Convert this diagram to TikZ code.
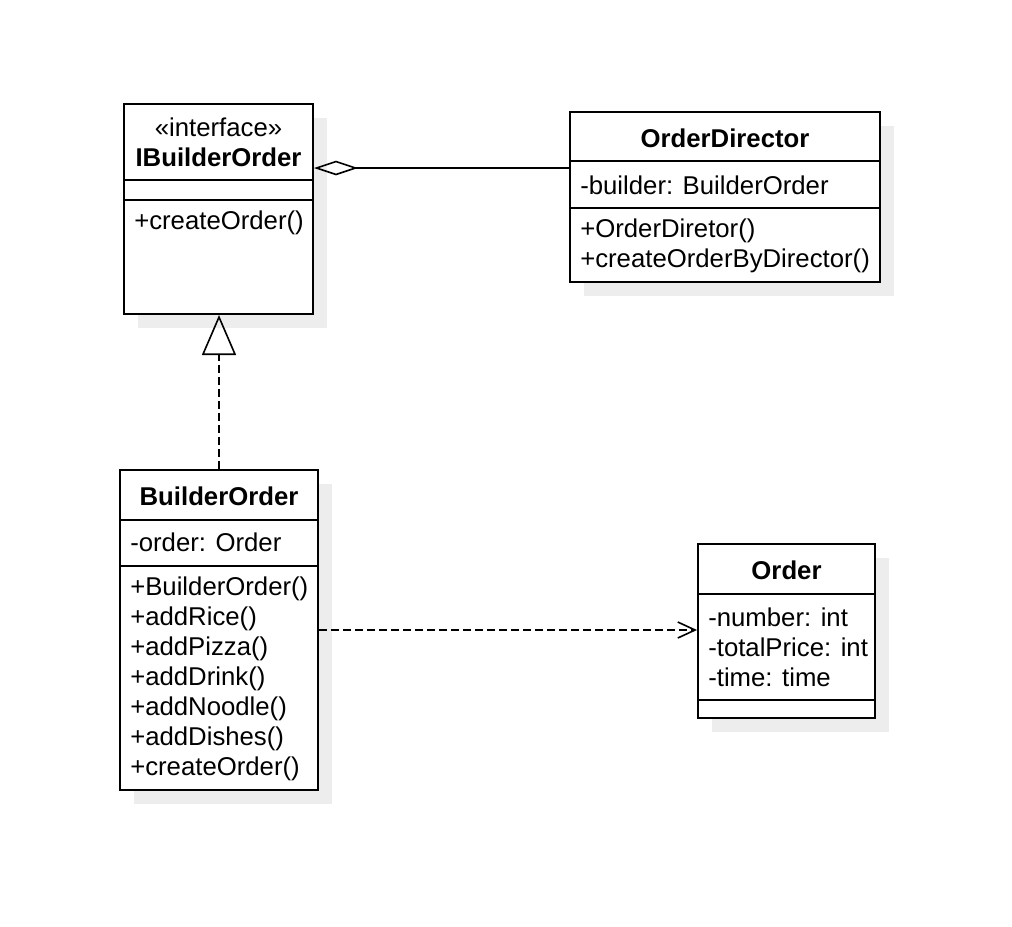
\documentclass[tikz,border=0pt]{standalone}
\usepackage{fontspec}
\setmainfont{Liberation Sans}
\usetikzlibrary{fit,shadows,arrows.meta}

\tikzset{
  classbox/.style={draw, line width=1.5pt, inner sep=0pt, fill=white,
    drop shadow={shadow xshift=10.5pt, shadow yshift=-10.5pt, fill=black!7, opacity=1}},
  divider/.style={line width=1.5pt},
  title/.style={inner sep=0pt, align=center, font=\fontsize{19.3}{22.5}\selectfont},
  members/.style={inner sep=0pt, anchor=west, align=left, font=\fontsize{19.3}{22.5}\selectfont},
  aggr/.style={line width=1.2pt, -{Diamond[open, length=33pt, width=11pt, line width=1.2pt]}},
  realize/.style={line width=1.2pt, dash pattern=on 6pt off 3pt, -{Triangle[open, length=30pt, width=25.5pt, line width=1.2pt]}},
  depend/.style={line width=1.2pt, dash pattern=on 6pt off 3pt, -{Straight Barb[length=13pt, width=12pt, line width=1.2pt]}}
}

\begin{document}
\begin{tikzpicture}[x=0.75pt, y=-0.75pt]
  \useasboundingbox (0,0) rectangle (1012,926);

  % class boxes
  \node[classbox, fit={(124,104) (313,314)}] (ib) {};
  \node[classbox, fit={(570,112) (880,282)}] (od) {};
  \node[classbox, fit={(120,470) (318,790)}] (bo) {};
  \node[classbox, fit={(698,544) (875,718)}] (or) {};

  % compartments
  \draw[divider] (ib.west |- 0,180) -- (ib.east |- 0,180);
  \draw[divider] (ib.west |- 0,200) -- (ib.east |- 0,200);
  \draw[divider] (od.west |- 0,161) -- (od.east |- 0,161);
  \draw[divider] (od.west |- 0,208) -- (od.east |- 0,208);
  \draw[divider] (bo.west |- 0,520) -- (bo.east |- 0,520);
  \draw[divider] (bo.west |- 0,566) -- (bo.east |- 0,566);
  \draw[divider] (or.west |- 0,594) -- (or.east |- 0,594);
  \draw[divider] (or.west |- 0,700) -- (or.east |- 0,700);

  % IBuilderOrder
  \node[title] (ib-name) at (218.5,142) {«interface»\\\textbf{IBuilderOrder}};
  \node[members] (ib-ops) at (134,223) {+createOrder()};

  % OrderDirector
  \node[title] (od-name) at (725,138) {\textbf{OrderDirector}};
  \node[members] (od-attr) at (580,185) {-builder: BuilderOrder};
  \node[members] (od-ops) at (580,246) {+OrderDiretor()\\+createOrderByDirector()};

  % BuilderOrder
  \node[title] (bo-name) at (219,496) {\textbf{BuilderOrder}};
  \node[members] (bo-attr) at (130,542) {-order: Order};
  \node[members] (bo-ops) at (130,679) {+BuilderOrder()\\+addRice()\\+addPizza()\\+addDrink()\\+addNoodle()\\+addDishes()\\+createOrder()};

  % Order
  \node[title] (or-name) at (786.5,570) {\textbf{Order}};
  \node[members] (or-attr) at (708,647) {-number: int\\-totalPrice: int\\-time: time};

  % relations
  \draw[aggr] (od.west |- 0,168) -- (ib.east |- 0,168);
  \draw[realize] (bo.north) -- (bo.north |- ib.south);
  \draw[depend] (bo.east |- 0,630) -- (or.west |- 0,630);
\end{tikzpicture}
\end{document}
